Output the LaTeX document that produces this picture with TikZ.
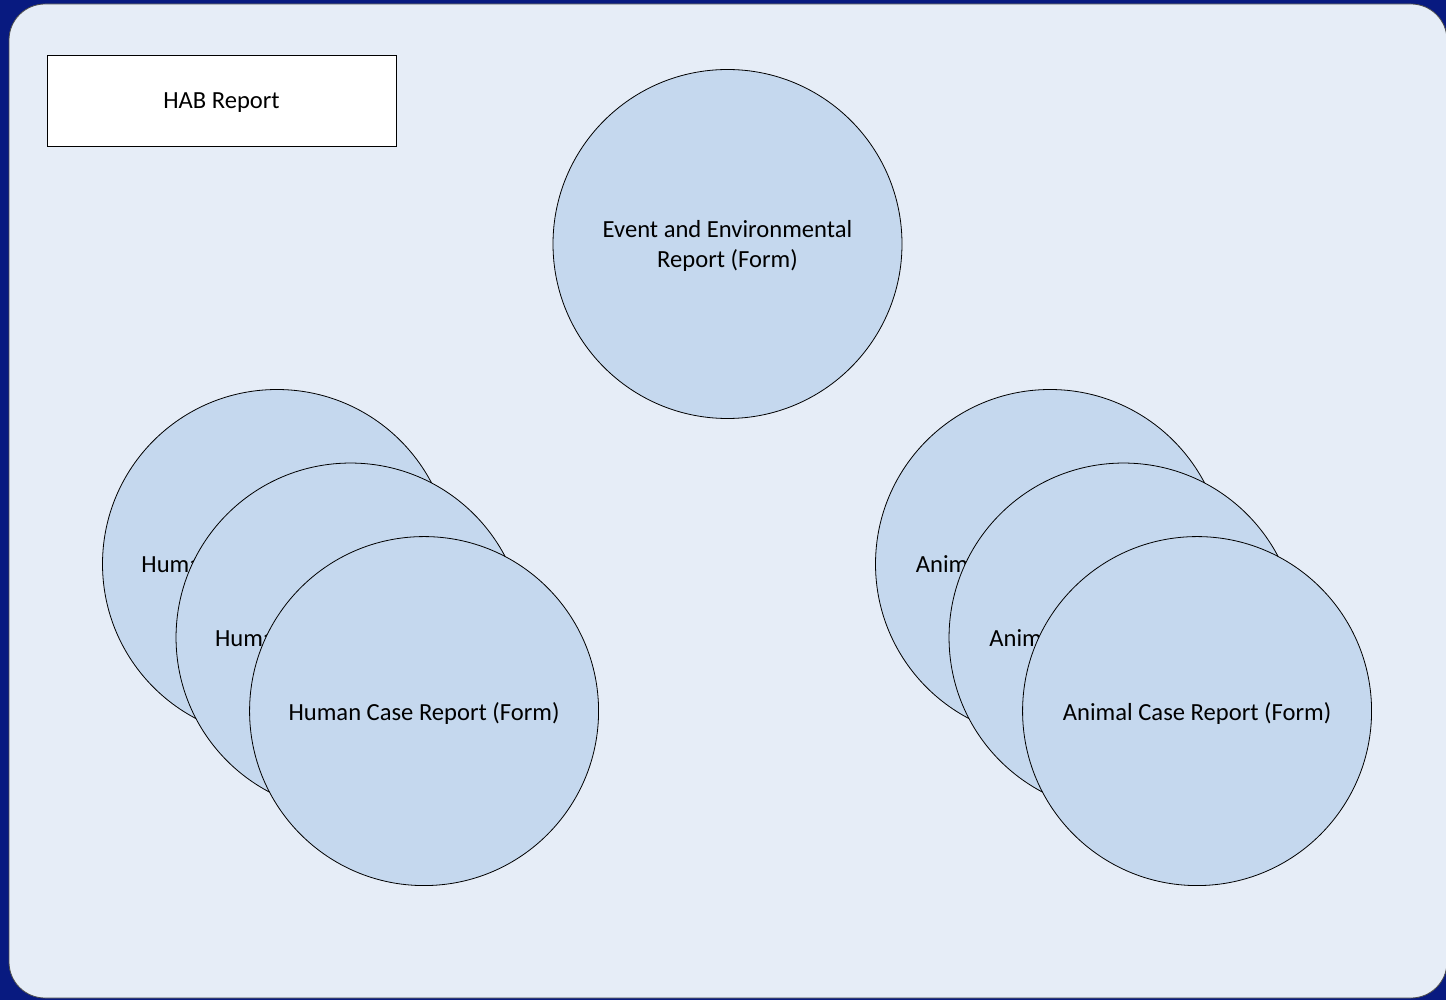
\documentclass[tikz,border=0pt]{standalone}
\usepackage{fontspec}
\setmainfont{Carlito}
\usepackage{xcolor}
\usepackage{tikz}
\usetikzlibrary{positioning}
\definecolor{bgblue}{RGB}{8,26,128}
\definecolor{panel}{RGB}{230,237,247}
\definecolor{disc}{RGB}{197,216,238}

\begin{document}
\begin{tikzpicture}[x=0.5pt, y=-0.5pt, node distance={52pt},
main/.style = {draw, circle, minimum size=174.5pt, inner sep=0pt, text depth=0pt, fill=disc, align=center, font=\fontsize{12.3}{15}\selectfont},
box/.style = {draw, fill=white, minimum width=174.5pt, minimum height=45.5pt, text depth=0pt, font=\fontsize{12.3}{15}\selectfont}]
\useasboundingbox (0,0) rectangle (1446,1000);
\fill[bgblue] (0,0) rectangle (1446,1000);
\draw[fill=panel, draw=black!70, rounded corners=18pt] (9,4) rectangle (1447,998);
\node[box] (hab) at (221.5,100.5) {HAB Report};
\node[main] (ev) at (727.5,244) {Event and Environmental\\Report (Form)};
% human stack
\node[main] (h1) at (277,564) {Human Case Report (Form)};
\node[main] (h2) [below right of = h1] {Human Case Report (Form)};
\node[main] (h3) [below right of = h2] {Human Case Report (Form)};
% animal stack
\node[main] (a1) at (1050,564) {Animal Case Report (Form)};
\node[main] (a2) [below right of = a1] {Animal Case Report (Form)};
\node[main] (a3) [below right of = a2] {Animal Case Report (Form)};
\end{tikzpicture}
\end{document}
